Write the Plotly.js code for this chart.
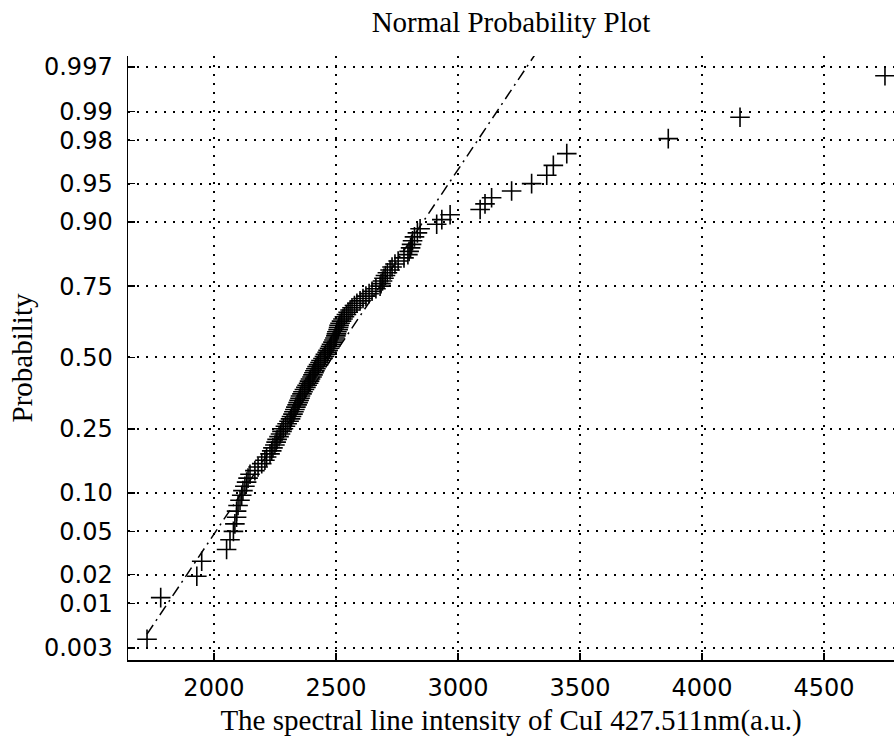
<!DOCTYPE html>
<html>
<head>
<meta charset="utf-8">
<script src="https://cdn.plot.ly/plotly-3.0.1.min.js"></script>
<style>html,body{margin:0;padding:0;background:#fff;}#chart{width:894px;height:740px;}</style>
</head>
<body>
<div id="chart"></div>
<script>
// Sorted sample values (spectral line intensity, a.u.)
const intensity = [
  1726, 1782, 1930, 1950, 2052, 2066, 2080, 2086, 2093, 2093,
  2099, 2107, 2114, 2119, 2127, 2134, 2140, 2148, 2168, 2181,
  2196, 2209, 2216, 2230, 2237, 2242, 2250, 2255, 2259, 2267,
  2273, 2279, 2285, 2293, 2300, 2308, 2314, 2318, 2324, 2328,
  2332, 2336, 2341, 2345, 2349, 2353, 2355, 2361, 2365, 2371,
  2377, 2382, 2388, 2392, 2396, 2402, 2406, 2410, 2414, 2418,
  2423, 2429, 2435, 2439, 2447, 2453, 2457, 2464, 2468, 2474,
  2478, 2482, 2488, 2492, 2496, 2500, 2502, 2504, 2509, 2511,
  2513, 2517, 2523, 2529, 2535, 2543, 2550, 2558, 2566, 2576,
  2586, 2599, 2611, 2623, 2636, 2648, 2664, 2681, 2685, 2691,
  2697, 2703, 2711, 2722, 2730, 2742, 2755, 2779, 2795, 2800,
  2806, 2810, 2814, 2822, 2834, 2845, 2913, 2934, 2968, 3091,
  3111, 3138, 3220, 3302, 3364, 3391, 3446, 3862, 4156, 4750
];
// Reference (fitted normal) line parameters
const fitMean = 2485;
const fitSigma = 290;
// Probability tick values and labels
const probTicks = [0.003, 0.01, 0.02, 0.05, 0.10, 0.25, 0.50, 0.75, 0.90, 0.95, 0.98, 0.99, 0.997];
const probLabels = ['0.003', '0.01', '0.02', '0.05', '0.10', '0.25', '0.50', '0.75', '0.90', '0.95', '0.98', '0.99', '0.997'];
const xTicks = [2000, 2500, 3000, 3500, 4000, 4500];

// Inverse standard normal CDF (probability-scale transform)
function norminv(p) {
  const a = [-3.969683028665376e+01, 2.209460984245205e+02, -2.759285104469687e+02, 1.383577518672690e+02, -3.066479806614716e+01, 2.506628277459239e+00];
  const b = [-5.447609879822406e+01, 1.615858368580409e+02, -1.556989798598866e+02, 6.680131188771972e+01, -1.328068155288572e+01];
  const c = [-7.784894002430293e-03, -3.223964580411365e-01, -2.400758277161838e+00, -2.549732539343734e+00, 4.374664141464968e+00, 2.938163982698783e+00];
  const d = [7.784695709041462e-03, 3.224671290700398e-01, 2.445134137142996e+00, 3.754408661907416e+00];
  const pl = 0.02425, ph = 1 - pl;
  let q, r;
  if (p < pl) {
    q = Math.sqrt(-2 * Math.log(p));
    return (((((c[0]*q+c[1])*q+c[2])*q+c[3])*q+c[4])*q+c[5]) / ((((d[0]*q+d[1])*q+d[2])*q+d[3])*q+1);
  } else if (p <= ph) {
    q = p - 0.5; r = q * q;
    return (((((a[0]*r+a[1])*r+a[2])*r+a[3])*r+a[4])*r+a[5])*q / (((((b[0]*r+b[1])*r+b[2])*r+b[3])*r+b[4])*r+1);
  } else {
    q = Math.sqrt(-2 * Math.log(1 - p));
    return -(((((c[0]*q+c[1])*q+c[2])*q+c[3])*q+c[4])*q+c[5]) / ((((d[0]*q+d[1])*q+d[2])*q+d[3])*q+1);
  }
}

const n = intensity.length;
const plotPos = intensity.map((v, i) => (i + 0.5) / n); // plotting positions (i-0.5)/n
const yData = plotPos.map(norminv);

const xMin = Math.min(...intensity), xMax = Math.max(...intensity);
const fitX = [xMin, xMax];
const fitY = fitX.map(x => (x - fitMean) / fitSigma);

const serif = 'Liberation Serif, Times New Roman, serif';
const sans = 'DejaVu Sans, Verdana, sans-serif';

const traces = [
  {
    x: fitX, y: fitY, type: 'scatter', mode: 'lines',
    line: {color: '#000', width: 1.5, dash: '11px,5px,2px,5px'},
    hoverinfo: 'skip'
  },
  {
    x: intensity, y: yData, type: 'scatter', mode: 'markers',
    marker: {symbol: 'cross-thin-open', size: 14, color: '#000', line: {color: '#000', width: 1.6}}
  }
];

const layout = {
  width: 894, height: 740,
  margin: {l: 128, r: 0, t: 56, b: 80},
  paper_bgcolor: '#fff', plot_bgcolor: '#fff',
  showlegend: false,
  title: {
    text: 'Normal Probability Plot',
    font: {family: serif, size: 29, color: '#000'},
    xref: 'paper', x: 0.5, xanchor: 'center',
    yref: 'container', y: 0.97, yanchor: 'middle'
  },
  xaxis: {
    range: [1648, 4787],
    tickmode: 'array', tickvals: xTicks, ticktext: xTicks.map(String),
    ticks: 'inside', ticklen: 7, tickwidth: 1.5, tickcolor: '#000',
    showline: true, linecolor: '#000', linewidth: 1.5, mirror: false,
    showgrid: true, gridcolor: '#000', gridwidth: 2, griddash: '2px,7px',
    zeroline: false,
    tickfont: {family: sans, size: 24, color: '#000'},
    ticklabelstandoff: 6,
    title: {text: 'The spectral line intensity of CuI 427.511nm(a.u.)', font: {family: serif, size: 29, color: '#000'}, standoff: 8}
  },
  yaxis: {
    range: [-2.862, 2.852],
    tickmode: 'array', tickvals: probTicks.map(norminv), ticktext: probLabels,
    ticks: 'inside', ticklen: 7, tickwidth: 1.5, tickcolor: '#000',
    showline: true, linecolor: '#000', linewidth: 1.5, mirror: false,
    showgrid: true, gridcolor: '#000', gridwidth: 2, griddash: '2px,7px',
    zeroline: false,
    tickfont: {family: sans, size: 24, color: '#000'},
    ticklabelstandoff: 9,
    title: {text: 'Probability', font: {family: serif, size: 29, color: '#000'}, standoff: 3}
  }
};

Plotly.newPlot('chart', traces, layout, {displayModeBar: false, staticPlot: true});
</script>
</body>
</html>
